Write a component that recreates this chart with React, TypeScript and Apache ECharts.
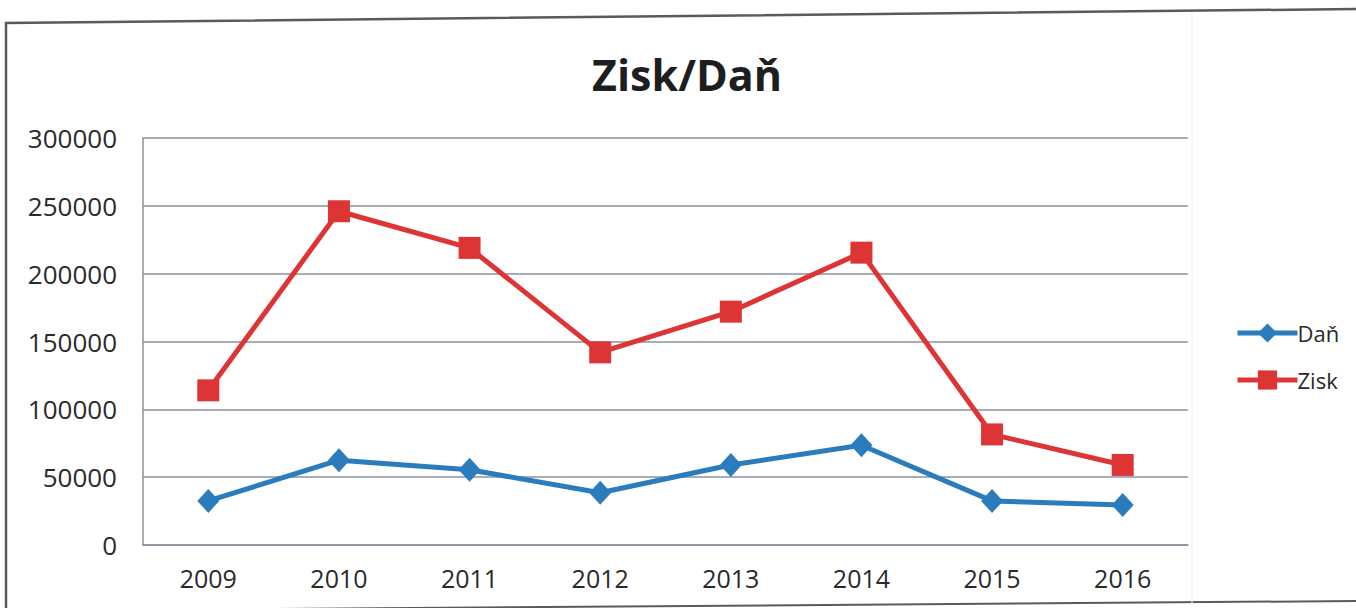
import React, { useEffect, useRef } from "react";
import * as echarts from "echarts";

const years = ["2009", "2010", "2011", "2012", "2013", "2014", "2015", "2016"];
const dan = [32500, 62500, 55500, 38500, 59000, 73500, 32500, 29500];
const zisk = [114000, 246000, 219000, 142000, 172000, 215500, 81500, 59000];

const FONT = "'Open Sans', 'DejaVu Sans', sans-serif";

export default function App() {
  const ref = useRef<HTMLDivElement>(null);
  useEffect(() => {
    const chart = echarts.init(ref.current!, null, { renderer: "svg" });
    chart.setOption({
      animation: false,
      backgroundColor: "#ffffff",
      title: {
        text: "Zisk/Daň",
        left: 682,
        top: 48,
        textAlign: "center",
        textStyle: { fontFamily: FONT, fontSize: 43, fontWeight: "bold", color: "#1e1e1e" },
      },
      grid: { left: 143, right: 168, top: 138, bottom: 63, containLabel: false },
      legend: {
        orient: "vertical",
        left: 1230,
        top: 317,
        itemWidth: 60,
        itemHeight: 24,
        itemGap: 25,
        lineStyle: { width: 5 },
        textStyle: { fontFamily: FONT, fontSize: 22, color: "#2a2a2a", padding: [0, 0, 0, -5] },
        data: ["Daň", "Zisk"],
      },
      xAxis: {
        type: "category",
        data: years,
        boundaryGap: true,
        axisLine: { show: true, lineStyle: { color: "#8a909c", width: 1.5 } },
        axisTick: { show: false },
        axisLabel: { fontFamily: FONT, fontSize: 25, color: "#2a2a2a", margin: 20 },
      },
      yAxis: {
        type: "value",
        min: 0,
        max: 300000,
        interval: 50000,
        axisLine: { show: true, lineStyle: { color: "#8a909c", width: 1.5 } },
        axisTick: { show: false },
        splitLine: { show: true, lineStyle: { color: "#8a909c", width: 1.5 } },
        axisLabel: {
          fontFamily: FONT,
          fontSize: 26,
          color: "#2a2a2a",
          margin: 26,
          formatter: (v: number) => String(v),
        },
      },
      series: [
        {
          name: "Daň",
          type: "line",
          data: dan,
          symbol: "diamond",
          symbolSize: [22, 24],
          lineStyle: { color: "#2b7cbc", width: 5 },
          itemStyle: { color: "#2b7cbc" },
        },
        {
          name: "Zisk",
          type: "line",
          data: zisk,
          symbol: "rect",
          symbolSize: 22,
          lineStyle: { color: "#dd3535", width: 5 },
          itemStyle: { color: "#dd3535" },
        },
      ],
      graphic: [
        {
          type: "polyline",
          shape: { points: [[6, 612], [6, 23], [1356, 9]] },
          style: { stroke: "#5a5a5a", lineWidth: 2.5, fill: "none" },
          silent: true,
        },
        {
          type: "line",
          shape: { x1: 6, y1: 611, x2: 1356, y2: 601 },
          style: { stroke: "#5a5a5a", lineWidth: 2 },
          silent: true,
        },
        {
          type: "line",
          shape: { x1: 1192, y1: 12, x2: 1192, y2: 603 },
          style: { stroke: "#efefef", lineWidth: 1 },
          silent: true,
        },
      ],
    });
    return () => chart.dispose();
  }, []);
  return (
    <div
      ref={ref}
      style={{ position: "fixed", left: 0, top: 0, width: 1356, height: 608 }}
    />
  );
}
